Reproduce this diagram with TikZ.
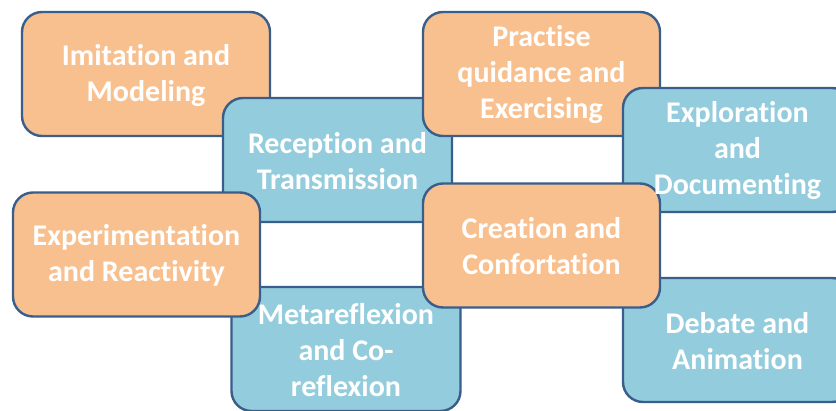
\documentclass[tikz,border=0pt]{standalone}
\usepackage{fontspec}
\setmainfont[Ligatures=NoCommon]{Carlito}
\definecolor{ofill}{HTML}{F9C08F}
\definecolor{bfill}{HTML}{93CDDD}
\definecolor{edgecol}{HTML}{395E8B}
\tikzset{
  card/.style={draw=edgecol, line width=2.4pt, rounded corners=20pt, inner sep=0pt, minimum height=124pt},
  ocard/.style={card, fill=ofill},
  bcard/.style={card, fill=bfill, minimum width=229pt},
  lbl/.style={text=white, font=\bfseries\fontsize{30}{36}\selectfont, align=center, inner sep=0pt},
}
\begin{document}
\begin{tikzpicture}[x=1pt, y=-1pt]
\useasboundingbox (0,0) rectangle (836,410);
\node[ocard, minimum width=248pt] (imit) at (146,74) {};
\node[bcard] (recep) at (337.5,160) {};
\node[ocard, minimum width=237pt] (pract) at (541.5,74) {};
\node[bcard] (explo) at (737.5,150) {};
\node[bcard] (meta) at (346,349) {};
\node[ocard, minimum width=247pt] (exper) at (136.5,254.5) {};
\node[bcard] (deb) at (737.5,340) {};
\node[ocard, minimum width=237pt] (creat) at (541.5,245.5) {};

\node[lbl] (timit) at ([yshift=-2pt]imit.center) {Imitation and\\Modeling};
\node[lbl] (trecep) at ([yshift=-1pt]recep.center) {Reception and\\Transmission};
\node[lbl] (tpract) at ([yshift=-1pt]pract.center) {Practise\\quidance and\\Exercising};
\node[lbl] (texplo) at ([yshift=-1pt]explo.center) {Exploration\\and\\Documenting};
\node[lbl] (tmeta) at ([yshift=-1pt]meta.center) {Metareflexion\\and Co-\\reflexion};
\node[lbl] (texper) at ([yshift=-1pt]exper.center) {Experimentation\\and Reactivity};
\node[lbl] (tdeb) at ([yshift=-1pt]deb.center) {Debate and\\Animation};
\node[lbl] (tcreat) at ([yshift=-1pt]creat.center) {Creation and\\Confortation};
\end{tikzpicture}
\end{document}
